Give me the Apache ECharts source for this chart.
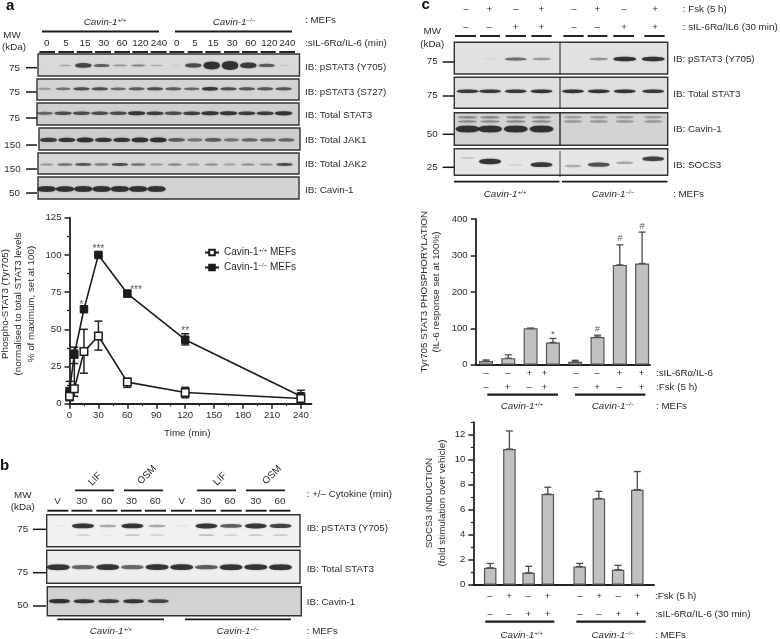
<!DOCTYPE html>
<html><head><meta charset="utf-8">
<style>html,body{margin:0;background:#fff}#c{width:780px;height:639px;filter:blur(0.4px)}</style>
<script src="https://cdn.jsdelivr.net/npm/echarts@6/dist/echarts.min.js"></script></head>
<body><div id="c"></div>
<script>
// ---------- data: time course (panel a) ----------
const timeMin=[0,5,15,30,60,120,240];
const wtMean=[5,10,35,45.5,14.5,7.5,3.5];
const wtLow=[2,5,20.5,36,11,4,1];
const wtHigh=[8,36,50,55.5,17,11,6];
const koMean=[8.5,33,63.5,100,74,43,5];
const koLow=[4,27,62,99,72,39.5,1];
const koHigh=[15,38,65,101,76,47,9];
const lineStars=[[12.5,'*',66],[30,'***',103.5],[69,'***',76],[120,'**',49]];
// ---------- data: bars (panel c) ----------
const pyMean=[10,18,100,61,8,76,274,278];
const pyHigh=[13,27,100,72,12,81,329,364];
const pyMarks=[[3,'*',82],[5,'#',97],[6,'#',348],[7,'#',381]];
const socsMean=[1.35,10.85,0.95,7.25,1.45,6.9,1.2,7.6];
const socsHigh=[1.7,12.3,1.47,7.8,1.7,7.47,1.55,9.05];
const pyIL=['–','–','+','+','–','–','+','+'];
const pyFsk=['–','+','–','+','–','+','–','+'];
const socsFsk=['–','+','–','+','–','+','–','+'];
const socsIL=['–','–','+','+','–','–','+','+'];
const cFsk=['–','+','–','+','–','+','–','+'];
const cIL=['–','–','+','+','–','–','+','+'];
// ---------- data: blot lane labels ----------
const aLanes=['0','5','15','30','60','120','240','0','5','15','30','60','120','240'];
const bLanes=['V','30','60','30','60','V','30','60','30','60'];
// ---------- data: blot band intensities ----------
const aY705=[.02,.22,.75,.6,.32,.42,.2,.05,.72,.95,1,.82,.62,.07];
const aS727=[.3,.5,.7,.7,.55,.6,.7,.6,.55,.85,.7,.65,.65,.65];
const aStat3=[.55,.7,.7,.7,.7,.85,.8,.7,.8,.85,.85,.8,.8,.95];
const aJak1=[.8,.85,.95,.85,.85,.95,.95,.6,.45,.6,.45,.55,.55,.55];
const aJak2=[.3,.5,.65,.45,.7,.5,.3,.4,.3,.35,.25,.35,.35,.7];
const aCav=[1,.95,1,1,1,1,1,0,0,0,0,0,0,0];
const bY705=[.03,.95,.3,.95,.3,.05,1,.65,1,.8];
const bY705low=[0,.12,.05,.18,.12,0,.2,.12,.15,.15];
const bStat3=[1,.6,.95,.6,.9,.95,.65,1,.9,1];
const bCav=[.9,.85,.8,.85,.75,0,0,0,0,0];
const cY705=[0,.05,.55,.32,0,.35,1,1];
const cStat3=[.85,.85,.85,.9,.9,.9,.9,.85];
const cCav=[1,1,1,1,0,0,0,0];
const cCavUp1=[.35,.35,.35,.35,.25,.25,.25,.25];
const cCavUp2=[.35,.35,.35,.35,.28,.28,.28,.28];
const cSocs=[.12,1,.08,.85,.25,.7,.28,.8];
const cSocsY=[.35,.48,.62,.6,.65,.6,.53,.38];

// ---------- layout ----------
const F='"Liberation Sans",Arial,sans-serif', INK='#2b2b2b';
const aSlots=aLanes.map((_,i)=>i), bSlots=bLanes.map((_,i)=>i);
const cSlots=[0,.9,1.93,2.96,4.22,5.25,6.29,7.43];
const BAND='path://M0,5 C3,1.5 14,0.5 50,0 C86,0.5 97,1.5 100,5 C97,8.5 86,9.5 50,10 C14,9.5 3,8.5 0,5Z';
const panels=[
 // panel a
 {l:38,t:54,w:261.5,h:22,bg:'#d9d9d9',min:-.475,max:13.79,s:aSlots,W:16.5,rows:[{v:aY705,y:.52,h:9,pow:3}]},
 {l:37,t:79,w:262,h:21,bg:'#d4d4d4',min:-.42,max:13.84,s:aSlots,W:16.5,rows:[{v:aS727,y:.47,h:4.2}]},
 {l:37,t:103,w:262,h:22,bg:'#cfcfcf',min:-.42,max:13.84,s:aSlots,W:17.5,rows:[{v:aStat3,y:.47,h:4.4}]},
 {l:39,t:128,w:261,h:22,bg:'#cdcdcd',min:-.52,max:13.75,s:aSlots,W:17,rows:[{v:aJak1,y:.54,h:5}]},
 {l:38,t:153,w:261,h:21,bg:'#d6d6d6',min:-.475,max:13.79,s:aSlots,W:16.5,rows:[{v:aJak2,y:.55,h:3.6}]},
 {l:38,t:177,w:261,h:22,bg:'#d4d4d4',min:-.475,max:13.79,s:aSlots,W:18.5,rows:[{v:aCav,y:.55,h:6}]},
 // panel b
 {l:46.7,t:514.7,w:253.3,h:32,bg:'#f1f1f1',min:-.47,max:9.79,s:bSlots,W:22,rows:[{v:bY705,y:.35,h:5},{v:bY705low,y:.64,h:3}]},
 {l:46.7,t:550.3,w:253.3,h:33,bg:'#eeeeee',min:-.47,max:9.79,s:bSlots,W:23,rows:[{v:bStat3,y:.51,h:6}]},
 {l:47.3,t:586.7,w:254,h:29,bg:'#d2d2d2',min:-.49,max:9.79,s:bSlots,W:21,rows:[{v:bCav,y:.5,h:4.5}]},
 // panel c
 {l:454.3,t:42.3,w:213.4,h:31.7,bg:'#e1e1e1',min:-.53,max:8.01,s:cSlots,W:23,rows:[{v:cY705,y:.53,h:4.5}]},
 {l:454.3,t:77.3,w:213.4,h:31,bg:'#dfdfdf',min:-.53,max:8.01,s:cSlots,W:22,rows:[{v:cStat3,y:.45,h:4}]},
 {l:454.3,t:112.7,w:213.4,h:32.6,bg:'#d3d3d3',min:-.53,max:8.01,s:cSlots,W:24,rows:[{v:cCavUp1,y:.14,h:5},{v:cCavUp2,y:.27,h:5},{v:cCav,y:.5,h:7}]},
 {l:454.3,t:148.7,w:213.4,h:26.6,bg:'#e6e6e6',min:-.53,max:8.01,s:cSlots,W:22,rows:[{v:cSocs,y:cSocsY,h:5.5}]}
];

const grid=[],xAxis=[],yAxis=[],series=[];
function addBlot(p){
  const gi=grid.length, xi=xAxis.length, yi=yAxis.length;
  grid.push({show:true,left:p.l,top:p.t,width:p.w,height:p.h,backgroundColor:p.bg,borderColor:'#333',borderWidth:1.4});
  xAxis.push({type:'value',gridIndex:gi,min:p.min,max:p.max,show:false});
  yAxis.push({type:'value',gridIndex:gi,min:0,max:1,inverse:true,show:false});
  p.rows.forEach(r=>{
    const data=r.v.map((a,i)=>[p.s[i],Array.isArray(r.y)?r.y[i]:r.y,a]).filter(d=>d[2]>0);
    series.push({type:'scatter',xAxisIndex:xi,yAxisIndex:yi,data,symbol:BAND,silent:true,
      symbolSize:d=>[p.W*(.6+.4*Math.min(1,d[2]*1.6)),1.5+(r.h-1.5)*Math.pow(d[2],r.pow||1)],
      itemStyle:{color:pa=>`rgba(18,18,18,${Math.min(.97,pa.value[2]*1.1)})`,shadowBlur:2,shadowColor:'rgba(20,20,20,.4)'}});
  });
}
panels.forEach(addBlot);

const axisTxt={color:INK,fontSize:9.6,fontFamily:F};
const axLine={show:true,onZero:false,lineStyle:{color:'#222',width:1.8}};
const rng=(a,b,s)=>{const o=[];for(let v=a;v<=b;v+=s)o.push(v);return o};

// time-course chart
const gL=grid.length, xL=xAxis.length, yL=yAxis.length;
grid.push({left:69.5,top:217.7,width:242,height:186});
xAxis.push({type:'value',gridIndex:gL,position:'bottom',min:0,max:251,axisLine:axLine,splitLine:{show:false},
  axisTick:{customValues:rng(0,240,30),length:5,lineStyle:{color:'#222',width:1.5}},
  axisLabel:Object.assign({customValues:rng(0,240,30),margin:7},axisTxt)});
yAxis.push({type:'value',gridIndex:gL,min:0,max:125,interval:25,axisLine:axLine,splitLine:{show:false},
  axisTick:{length:5,lineStyle:{color:'#222',width:1.5}},minorTick:{show:true,splitNumber:2,length:2.5,lineStyle:{color:'#222',width:1.2}},
  axisLabel:Object.assign({margin:8},axisTxt)});
xAxis.push({type:'value',gridIndex:gL,position:'bottom',offset:0,min:0,max:251,axisLine:{show:false,onZero:false},splitLine:{show:false},axisLabel:{show:false},
  axisTick:{customValues:rng(15,240,30),length:2.5,lineStyle:{color:'#222',width:1.2}}});

function errSeries(xi,yi,rows,cap,color,lw){
  return {type:'custom',xAxisIndex:xi,yAxisIndex:yi,data:rows,silent:true,z:2,
    renderItem:(p,api)=>{
      const x=api.value(0),lo=api.coord([x,api.value(1)]),hi=api.coord([x,api.value(2)]);
      const st={stroke:color,lineWidth:lw,fill:null};
      return {type:'group',children:[
        {type:'line',shape:{x1:lo[0],y1:lo[1],x2:hi[0],y2:hi[1]},style:st},
        {type:'line',shape:{x1:hi[0]-cap,y1:hi[1],x2:hi[0]+cap,y2:hi[1]},style:st},
        {type:'line',shape:{x1:lo[0]-cap,y1:lo[1],x2:lo[0]+cap,y2:lo[1]},style:st}]};
    },encode:{x:0,y:[1,2]}};
}
series.push(errSeries(xL,yL,timeMin.map((t,i)=>[t,koLow[i],koHigh[i]]),4,'#222',1.5));
series.push(errSeries(xL,yL,timeMin.map((t,i)=>[t,wtLow[i],wtHigh[i]]),4,'#222',1.5));
const KO='Cavin-1−/− MEFs',WT='Cavin-1+/+ MEFs';
series.push({name:KO,type:'line',xAxisIndex:xL,yAxisIndex:yL,z:3,data:timeMin.map((t,i)=>[t,koMean[i]]),symbol:'rect',symbolSize:7.5,
  lineStyle:{color:'#1c1c1c',width:1.6},itemStyle:{color:'#1c1c1c',borderColor:'#1c1c1c',borderWidth:1}});
series.push({name:WT,type:'line',xAxisIndex:xL,yAxisIndex:yL,z:4,data:timeMin.map((t,i)=>[t,wtMean[i]]),symbol:'rect',symbolSize:7.5,
  lineStyle:{color:'#1c1c1c',width:1.6},itemStyle:{color:'#fff',borderColor:'#1c1c1c',borderWidth:1.5}});
function marks(xi,yi,rows,size){
  return {type:'scatter',xAxisIndex:xi,yAxisIndex:yi,z:5,silent:true,symbolSize:0,
    data:rows.map(r=>({value:[r[0],r[2]],label:{show:true,position:'inside',formatter:r[1],color:INK,fontSize:size,fontFamily:F}}))};
}
series.push(marks(xL,yL,lineStars,10));

// bars
function barChart(l,t,w,h,xmin,xmax,ymax,ivl,slots,mean,high,bw,cap,minor){
  const gi=grid.length, xi=xAxis.length, yi=yAxis.length;
  grid.push({left:l,top:t,width:w,height:h});
  const yTicks=rng(0,ymax-(ymax%ivl),ivl);
  xAxis.push({type:'value',gridIndex:gi,min:xmin,max:xmax,axisLine:axLine,axisTick:{show:false},axisLabel:{show:false},splitLine:{show:false}});
  yAxis.push({type:'value',gridIndex:gi,position:'left',min:0,max:ymax,axisLine:axLine,splitLine:{show:false},
    axisTick:{customValues:yTicks,length:5,lineStyle:{color:'#222',width:1.5}},
    axisLabel:Object.assign({customValues:yTicks,margin:8},axisTxt)});
  if(minor){
    yAxis.push({type:'value',gridIndex:gi,min:0,max:ymax,position:'left',offset:0,axisLine:{show:false,onZero:false},splitLine:{show:false},axisLabel:{show:false},
      axisTick:{customValues:minor,length:2.5,lineStyle:{color:'#222',width:1.2}}});
  }
  series.push(errSeries(xi,yi,slots.map((s,i)=>[s,mean[i],high[i]]),cap,'#4a4a4a',1.3));
  series.push({type:'bar',xAxisIndex:xi,yAxisIndex:yi,z:3,silent:true,barWidth:bw,data:slots.map((s,i)=>[s,mean[i]]),
    itemStyle:{color:'#c1c1c1',borderColor:'#555',borderWidth:1.2}});
  return [xi,yi];
}
const pySlots=[0,1,2,3,4,5,6,7];
const pAx=barChart(475.7,219,174.3,145.7,-.462,7.354,400,100,pySlots,pyMean,pyHigh,14,3.5);
series.push(marks(pAx[0],pAx[1],pyMarks,9.5));
const socsSlots=[0,1,2,3,4.66,5.66,6.66,7.66];
barChart(473.3,422.2,180.7,162.5,-.88,8.53,13,2,socsSlots,socsMean,socsHigh,12.5,3.5,rng(1,13,2));

// ---------- graphic text and rules ----------
const G=[];
const txt=(s,x,y,o={})=>G.push({type:'text',x,y,rotation:o.r||0,silent:true,style:{text:s,fontFamily:F,fontSize:o.fs||9.8,fontWeight:o.w||'normal',fontStyle:o.it?'italic':'normal',fill:o.c||INK,align:o.a||'left',verticalAlign:'middle'}});
const cav=(sup,x,y)=>G.push({type:'text',x,y,silent:true,style:{text:'{i|Cavin-1}{s|'+sup+'}',align:'center',verticalAlign:'middle',fill:INK,
   rich:{i:{fontFamily:F,fontSize:9.8,fontStyle:'italic',fill:INK},s:{fontFamily:F,fontSize:6,fontStyle:'italic',verticalAlign:'top',fill:INK}}}});
const rule=(x1,x2,y,lw=1.8)=>G.push({type:'line',silent:true,shape:{x1,y1:y,x2,y2:y},style:{stroke:'#1a1a1a',lineWidth:lw}});
const vrule=(x,y1,y2,lw=1)=>G.push({type:'line',silent:true,shape:{x1:x,y1,x2:x,y2},style:{stroke:'#1a1a1a',lineWidth:lw}});
const mw=(s,xc,y,x1,x2,ty)=>{txt(s,xc,y,{a:'center'});rule(x1,x2,ty,1.5)};
const lab=(s,x,y,r)=>txt(s,x,y,{a:'center',r:r});
const head=(s,x,y)=>txt(s,x,y,{fs:15,w:'bold',c:'#111'});

// panel a
head('a',6,6);
cav('+/+',105,22.5);cav('−/−',234,22.5);txt(': MEFs',305,20);
rule(42,159,31.5);rule(175,292,31.5);
lab('MW',12,35);lab('(kDa)',14,47);
const aX=[46.7,66,85,103.7,122,140.3,159,176.7,195,213.3,232.3,250.7,269.3,287.3];
aLanes.forEach((s,i)=>lab(s,aX[i],43.7));
const aBars=[[118,165],[175,222],[230,277],[285,333],[343,390],[397,444],[452,500],[508,553],[563,608],[616,662],[672,718],[726,773],[782,827],[838,885]];
aBars.forEach(b=>rule(b[0]/3,b[1]/3,52,1.9));
txt(':sIL-6Rα/IL-6 (min)',305,43.7);
[['IB: pSTAT3 (Y705)',67],['IB: pSTAT3 (S727)',92],['IB: Total STAT3',115],['IB: Total JAK1',140],['IB: Total JAK2',164],['IB: Cavin-1',190]].forEach(a=>txt(a[0],305,a[1]));
[['75',67.7],['75',92],['75',118],['150',145],['150',169],['50',193]].forEach(a=>mw(a[0],a[0].length>2?12.5:14.5,a[1]+.5,26,37,a[1]));

// time chart titles and text
lab('Phospho-STAT3 (Tyr705)',5.5,304,Math.PI/2);
lab('(normalised to total STAT3 levels',18.3,304,Math.PI/2);
lab('% of maximum, set at 100)',31.7,304,Math.PI/2);
lab('Time (min)',187.3,433);

// panel b
head('b',0,466);
[[95,479,'LIF'],[147,475,'OSM'],[220,479,'LIF'],[272,475,'OSM']].forEach(a=>lab(a[2],a[0],a[1],Math.PI/4));
[[75,114],[124,163],[197,236],[246,285]].forEach(a=>rule(a[0],a[1],490.3));
txt(': +/– Cytokine (min)',306.7,494);
lab('MW',22.7,495);lab('(kDa)',22.7,507.7);
const bX=[57.5,81.7,106.7,131.5,155.3,181.7,205.7,230,255.7,280];
bLanes.forEach((s,i)=>lab(s,bX[i],501.7));
[[142,205],[214,277],[289,352],[363,425],[435,498],[513,576],[585,648],[662,725],[737,800],[808,871]].forEach(b=>rule(b[0]/3,b[1]/3,510.7,1.9));
[['75',529.3],['75',572.7],['50',606]].forEach(a=>mw(a[0],22.7,a[1]-.5,33,46,a[1]));
[['IB: pSTAT3 (Y705)',528],['IB: Total STAT3',569],['IB: Cavin-1',602]].forEach(a=>txt(a[0],306.7,a[1]));
rule(57.3,164,619.3);rule(185,291,619.3);
cav('+/+',111,631.7);cav('−/−',238,631.7);txt(': MEFs',306.7,631.7);

// panel c
head('c',421.5,5);
const cX=[466,489.3,515.7,541.3,574,597.3,624,655];
cFsk.forEach((s,i)=>lab(s,cX[i],9.3));cIL.forEach((s,i)=>lab(s,cX[i],27.3));
txt(': Fsk (5 h)',682.7,9.3);txt(': sIL-6Rα/IL6 (30 min)',682.7,27);
lab('MW',432.3,31.3);lab('(kDa)',432.3,44.3);
[[165,228],[240,300],[317,378],[394,455],[490,551],[563,622],[640,702],[733,794]].forEach(b=>rule(400+b[0]/3,400+b[1]/3,36,1.9));
[['75',62],['75',96],['50',134.3],['25',167.3]].forEach(a=>mw(a[0],432.3,a[1]-.5,442.7,454,a[1]));
[['IB: pSTAT3 (Y705)',59.3],['IB: Total STAT3',94],['IB: Cavin-1',129],['IB: SOCS3',165.3]].forEach(a=>txt(a[0],673.3,a[1]));
vrule(560,42.3,74);vrule(560,77.3,108.3);vrule(560,112.7,145.3,1.3);vrule(560,151,177,.8);
rule(454,559.5,181.7);rule(562,667.5,181.7);
cav('+/+',505,194);cav('−/−',613,194);txt(': MEFs',673,194);

// pSTAT3 bar labels
lab('Tyr705 STAT3 PHOSPHORYLATION',424.3,291.7,Math.PI/2);
lab('(IL-6 response set at 100%)',436.7,292,Math.PI/2);
const pyX=[486,507.7,529.3,544.3,575.7,597,619.3,641.7];
pyIL.forEach((s,i)=>lab(s,pyX[i],373));pyFsk.forEach((s,i)=>lab(s,pyX[i],387));
txt(':sIL-6Rα/IL-6',656,373);txt(':Fsk (5 h)',656,387);
rule(487.3,558,394.7,2.2);rule(575,645.3,394.7,2.2);
cav('+/+',522,406);cav('−/−',613,406);txt(': MEFs',656,406);

// SOCS3 labels
lab('SOCS3 INDUCTION',429.3,503,Math.PI/2);
lab('(fold stimulation over vehicle)',442.3,503,Math.PI/2);
const sX=[490,509,528.3,547.7,579.7,599,618.3,637.3];
socsFsk.forEach((s,i)=>lab(s,sX[i],596.3));socsIL.forEach((s,i)=>lab(s,sX[i],614));
txt(':Fsk (5 h)',655,596.3);txt(':sIL-6Rα/IL-6 (30 min)',655,614);
rule(485.3,554.3,621.7,2.2);rule(576.3,645.7,621.7,2.2);
cav('+/+',521.7,635);cav('−/−',612.7,635);txt(': MEFs',655,635);

const chart=echarts.init(document.getElementById('c'),null,{renderer:'canvas'});
chart.setOption({animation:false,backgroundColor:'#fff',grid,xAxis,yAxis,series,graphic:G,
  legend:{data:[WT,KO],orient:'vertical',left:199,top:242.5,itemWidth:14,itemHeight:7,itemGap:5,selectedMode:false,
    formatter:n=>n===WT?'{a|Cavin-1}{s|+/+}{a| MEFs}':'{a|Cavin-1}{s|−/−}{a| MEFs}',
    textStyle:{rich:{a:{color:INK,fontSize:10,fontFamily:F},s:{color:INK,fontSize:6,fontFamily:F,verticalAlign:'top'}}}}
});
</script></body></html>
